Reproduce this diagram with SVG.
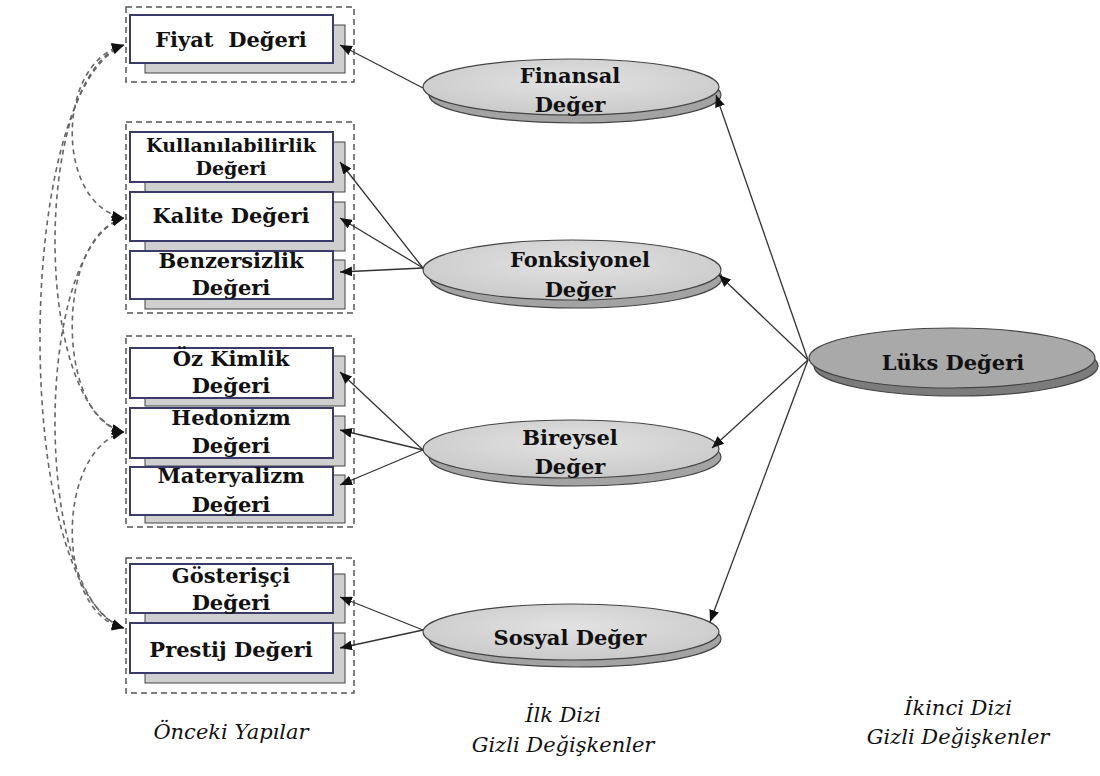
<svg xmlns="http://www.w3.org/2000/svg" width="1100" height="776" viewBox="0 0 1100 776">
<style>
.grp{fill:none;stroke:#555;stroke-width:1.5;stroke-dasharray:6 4}
.sh{fill:#cfcfcf;stroke:#444;stroke-width:1}
.box{fill:#fff;stroke:#3b3b6b;stroke-width:2}
.t{font-family:"DejaVu Serif","Liberation Serif",serif;font-weight:bold;font-size:21px;fill:#111;text-anchor:middle}
.t2{font-size:19px}
.el{fill:url(#lg);stroke:#444;stroke-width:1.2}
.els{fill:#a3a3a3;stroke:#444;stroke-width:1.2}
.lk{fill:#a9a9a9;stroke:#444;stroke-width:1.2}
.lks{fill:#7c7c7c;stroke:#444;stroke-width:1.2}
.cn{fill:none;stroke:#333;stroke-width:1.3}
.cv{fill:none;stroke:#666;stroke-width:1.6;stroke-dasharray:5 4}
.lab{font-family:"DejaVu Serif","Liberation Serif",serif;font-style:italic;font-size:21px;fill:#111;text-anchor:middle}
</style>
<defs>
<radialGradient id="lg" cx="0.5" cy="0.4" r="0.6">
<stop offset="0" stop-color="#e2e2e2"/>
<stop offset="1" stop-color="#cacaca"/>
</radialGradient>
<marker id="ah" viewBox="0 0 12 10" refX="12" refY="5" markerWidth="12" markerHeight="10" markerUnits="userSpaceOnUse" orient="auto-start-reverse">
<path d="M0,0 L12,5 L0,10 z" fill="#111" stroke="none"/>
</marker>
</defs>

<g id="groups">
<rect class="grp" x="126" y="7" width="228" height="75"/>
<rect class="grp" x="126" y="122" width="228" height="191"/>
<rect class="grp" x="126" y="336" width="228" height="191"/>
<rect class="grp" x="126" y="558" width="228" height="135"/>
</g>

<g id="node-fiyat">
<rect class="sh" x="145" y="25" width="200" height="48"/>
<rect class="box" x="130" y="15" width="203" height="48"/>
<text class="t" x="231" y="47" xml:space="preserve">Fiyat  Değeri</text>
</g>
<g id="node-kullanilabilirlik">
<rect class="sh" x="145" y="142" width="200" height="50"/>
<rect class="box" x="130" y="132" width="203" height="50"/>
<text class="t t2" x="231" y="152">Kullanılabilirlik</text>
<text class="t t2" x="231" y="175">Değeri</text>
</g>
<g id="node-kalite">
<rect class="sh" x="145" y="202" width="200" height="49"/>
<rect class="box" x="130" y="192" width="203" height="49"/>
<text class="t" x="231" y="223">Kalite Değeri</text>
</g>
<g id="node-benzersizlik">
<rect class="sh" x="145" y="260" width="200" height="49"/>
<rect class="box" x="130" y="251" width="203" height="48"/>
<text class="t" x="231" y="268">Benzersizlik</text>
<text class="t" x="231" y="295">Değeri</text>
</g>
<g id="node-ozkimlik">
<rect class="sh" x="145" y="356" width="200" height="50"/>
<rect class="box" x="130" y="348" width="203" height="50"/>
<text class="t" x="231" y="366">Öz Kimlik</text>
<text class="t" x="231" y="393">Değeri</text>
</g>
<g id="node-hedonizm">
<rect class="sh" x="145" y="416" width="200" height="50"/>
<rect class="box" x="130" y="408" width="203" height="50"/>
<text class="t" x="231" y="425">Hedonizm</text>
<text class="t" x="231" y="453">Değeri</text>
</g>
<g id="node-materyalizm">
<rect class="sh" x="145" y="475" width="200" height="48"/>
<rect class="box" x="130" y="467" width="203" height="48"/>
<text class="t" x="231" y="483">Materyalizm</text>
<text class="t" x="231" y="512">Değeri</text>
</g>
<g id="node-gosterisci">
<rect class="sh" x="145" y="574" width="200" height="49"/>
<rect class="box" x="130" y="564" width="203" height="49"/>
<text class="t" x="231" y="583">Gösterişçi</text>
<text class="t" x="231" y="610">Değeri</text>
</g>
<g id="node-prestij">
<rect class="sh" x="145" y="633" width="200" height="50"/>
<rect class="box" x="130" y="623" width="203" height="50"/>
<text class="t" x="231" y="657">Prestij Değeri</text>
</g>

<g id="node-finansal">
<ellipse class="els" cx="575" cy="95" rx="146" ry="28"/>
<ellipse class="el" cx="571" cy="87" rx="148" ry="28"/>
<text class="t" x="570" y="83">Finansal</text>
<text class="t" x="570" y="112">Değer</text>
</g>
<g id="node-fonksiyonel">
<ellipse class="els" cx="576" cy="278" rx="146" ry="30"/>
<ellipse class="el" cx="572" cy="270" rx="149" ry="30"/>
<text class="t" x="580" y="267">Fonksiyonel</text>
<text class="t" x="580" y="297">Değer</text>
</g>
<g id="node-bireysel">
<ellipse class="els" cx="575" cy="457" rx="146" ry="29"/>
<ellipse class="el" cx="571" cy="449" rx="148" ry="29"/>
<text class="t" x="570" y="445">Bireysel</text>
<text class="t" x="570" y="474">Değer</text>
</g>
<g id="node-sosyal">
<ellipse class="els" cx="575" cy="639" rx="146" ry="28"/>
<ellipse class="el" cx="571" cy="632" rx="148" ry="28"/>
<text class="t" x="570" y="645">Sosyal Değer</text>
</g>
<g id="node-luks">
<ellipse class="lks" cx="956" cy="366" rx="142" ry="30"/>
<ellipse class="lk" cx="952" cy="358" rx="143" ry="30"/>
<text class="t" x="953" y="370">Lüks Değeri</text>
</g>

<g id="connectors">
<line class="cn" x1="423" y1="88" x2="340" y2="45" marker-end="url(#ah)"/>
<line class="cn" x1="423" y1="268" x2="340" y2="162" marker-end="url(#ah)"/>
<line class="cn" x1="423" y1="268" x2="340" y2="218" marker-end="url(#ah)"/>
<line class="cn" x1="423" y1="268" x2="340" y2="272" marker-end="url(#ah)"/>
<line class="cn" x1="423" y1="450" x2="340" y2="372" marker-end="url(#ah)"/>
<line class="cn" x1="423" y1="450" x2="340" y2="430" marker-end="url(#ah)"/>
<line class="cn" x1="423" y1="450" x2="340" y2="485" marker-end="url(#ah)"/>
<line class="cn" x1="423" y1="630" x2="340" y2="597" marker-end="url(#ah)"/>
<line class="cn" x1="423" y1="630" x2="340" y2="648" marker-end="url(#ah)"/>
<line class="cn" x1="808" y1="360" x2="716" y2="95" marker-end="url(#ah)"/>
<line class="cn" x1="808" y1="360" x2="719" y2="275" marker-end="url(#ah)"/>
<line class="cn" x1="808" y1="360" x2="712" y2="448" marker-end="url(#ah)"/>
<line class="cn" x1="808" y1="360" x2="710" y2="622" marker-end="url(#ah)"/>
<path class="cv" d="M124,45 C55,62 55,205 124,218" marker-start="url(#ah)" marker-end="url(#ah)"/>
<path class="cv" d="M124,218 C55,236 55,418 124,432" marker-start="url(#ah)" marker-end="url(#ah)"/>
<path class="cv" d="M124,432 C55,450 55,614 124,628" marker-start="url(#ah)" marker-end="url(#ah)"/>
<path class="cv" d="M124,45 C32,75 32,410 124,432" marker-start="url(#ah)" marker-end="url(#ah)"/>
<path class="cv" d="M124,218 C32,245 32,600 124,628" marker-start="url(#ah)" marker-end="url(#ah)"/>
<path class="cv" d="M124,45 C12,90 12,590 124,628" marker-start="url(#ah)" marker-end="url(#ah)"/>
</g>

<g id="labels">
<text class="lab" x="231" y="739">Önceki Yapılar</text>
<text class="lab" x="563" y="722">İlk Dizi</text>
<text class="lab" x="563" y="752">Gizli Değişkenler</text>
<text class="lab" x="958" y="715">İkinci Dizi</text>
<text class="lab" x="958" y="744">Gizli Değişkenler</text>
</g>
</svg>
